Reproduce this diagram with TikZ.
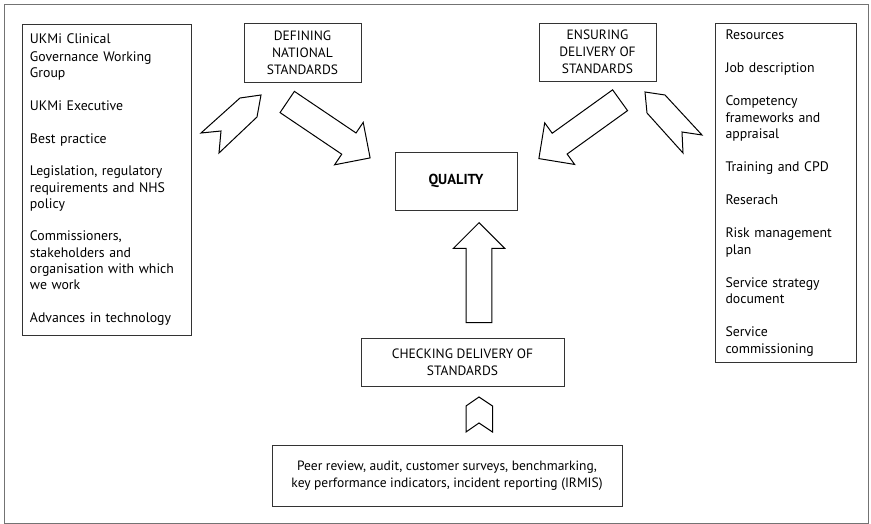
\documentclass[tikz,border=0pt]{standalone}
\usepackage{fontspec}
\setmainfont{PT Sans}
\usepackage{tikz}
\usetikzlibrary{shapes.arrows}
\tikzset{
  listbox/.style={rectangle,draw=black!80,line width=.8pt,align=left,inner sep=0pt,font=\fontsize{13.8}{16.3}\selectfont},
  headbox/.style={rectangle,draw=black!80,line width=.8pt,align=center,inner sep=0pt,font=\fontsize{13.5}{16.8}\selectfont},
  qualitybox/.style={headbox,font=\fontsize{14.5}{15}\selectfont\bfseries},
  bigarrow/.style={single arrow,draw=black,line width=1pt,minimum height=100pt,inner xsep=0pt,inner ysep=12.3pt,
    single arrow head extend=12.8pt,anchor=tip},
  chevron/.style={draw=black,line width=1pt,line join=miter},
}
\newcommand\listgap{\\[\baselineskip]}
\begin{document}
\begin{tikzpicture}[x=1pt,y=-1pt]
	    \useasboundingbox (0,0) rectangle (871,524);
	    \draw[black!55,line width=.8pt] (4,4) rectangle (868,523);
	    % boxes
	    \node[listbox,minimum width=169pt,minimum height=311pt,text width=153pt] (sources) at (106.5,179.5)
	      {\vspace{2pt}UKMi Clinical\\Governance Working\\Group\listgap UKMi Executive\listgap Best practice\listgap
	       Legislation, regulatory\\requirements and NHS\\policy\listgap Commissioners,\\stakeholders and\\
	       organisation with which\\we work\listgap Advances in technology};
	    \node[listbox,font=\fontsize{13.8}{16.5}\selectfont,minimum width=141pt,minimum height=339pt,text width=120pt] (resources) at (785.5,193.3)
	      {Resources\listgap Job description\listgap Competency\\frameworks and\\appraisal\listgap
	       Training and CPD\listgap Reserach\listgap Risk management\\plan\listgap Service strategy\\document\listgap
	       Service\\commissioning};
	    \node[headbox,minimum width=117pt,minimum height=59pt] (defining) at (302.5,52.5) {DEFINING\\NATIONAL\\STANDARDS};
	    \node[headbox,minimum width=117pt,minimum height=58pt] (ensuring) at (597.5,52) {ENSURING\\DELIVERY OF\\STANDARDS};
	    \node[qualitybox,minimum width=122pt,minimum height=58pt] (quality) at (456,181) {QUALITY};
	    \node[headbox,minimum width=203pt,minimum height=48pt] (checking) at (462.5,362) {CHECKING DELIVERY OF\\STANDARDS};
	    \node[headbox,minimum width=350pt,minimum height=61pt] (peer) at (447,475.5)
	      {Peer review, audit, customer surveys, benchmarking,\\key performance indicators, incident reporting (IRMIS)};
	    % block arrows
	    \node[bigarrow,rotate=-34] (defarrow) at (370.7,158.3) {};
	    \node[bigarrow,rotate=-144.3] (ensarrow) at (538.3,159) {};
	    \node[bigarrow,rotate=90] (checkarrow) at (479,222) {};
	    \draw[chevron] (201,133) -- (221,131) -- (219,153) -- (257,117) -- (261,95) -- (240,98) -- cycle;
	    \draw[chevron] (645,92) -- (665,95) -- (702,135) -- (682,132) -- (683,153) -- (647,113) -- cycle;
	    \draw[chevron] (479,397) -- (492.5,406) -- (492.5,432) -- (479,423) -- (466,432) -- (466,406) -- cycle;
\end{tikzpicture}
\end{document}
